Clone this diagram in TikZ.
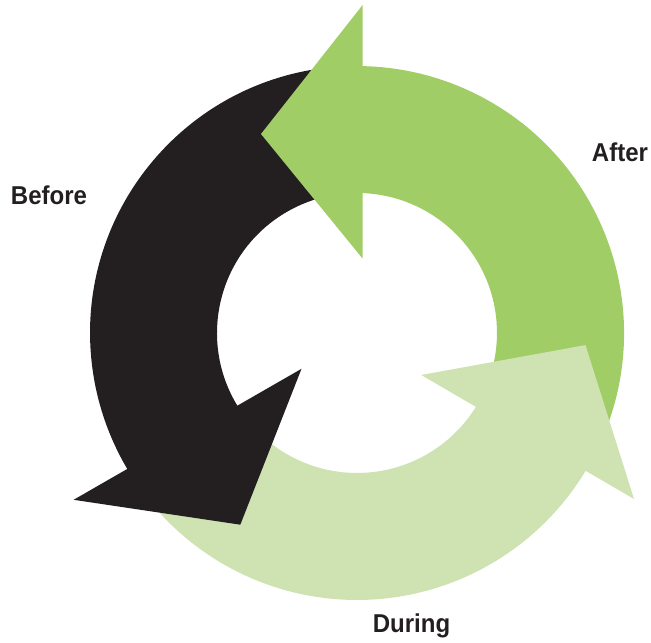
\documentclass[tikz,border=0pt]{standalone}
\usepackage{fontspec}
\newfontfamily\lblfont{Liberation Sans}[FakeStretch=0.93]
\definecolor{arrowblack}{HTML}{231F20}
\definecolor{arrowgreen}{HTML}{A1CD67}
\definecolor{arrowlight}{HTML}{CEE3B1}
\tikzset{
  lbl/.style={inner sep=0pt, anchor=base, text=arrowblack,
    font=\lblfont\bfseries\fontsize{14.7}{16}\selectfont},
}
\begin{document}
\begin{tikzpicture}[x=0.02cm, y=0.02cm]
\useasboundingbox (0,0) rectangle (651,642);
\begin{scope}[shift={(357,309)}]
  % bodies (outer radius 267 px = 5.34cm, inner 140 px = 2.8cm)
  \fill[arrowgreen] (-25:267) arc[start angle=-25, end angle=91, radius=5.34cm]
    -- (91:140) arc[start angle=91, end angle=-25, radius=2.8cm] -- cycle;
  \fill[arrowblack] (95:267) arc[start angle=95, end angle=213, radius=5.34cm]
    -- (213:140) arc[start angle=213, end angle=95, radius=2.8cm] -- cycle;
  \fill[arrowlight] (218:267) arc[start angle=218, end angle=331, radius=5.34cm]
    -- (331:140) arc[start angle=331, end angle=218, radius=2.8cm] -- cycle;
  % heads
  \fill[arrowgreen] (5.6,328) -- (-96,199) -- (5.6,74.4) -- cycle;
  \fill[arrowblack] (-55.5,-35.8) -- (-116.7,-191.7) -- (-283.4,-166.8) -- cycle;
  \fill[arrowlight] (64.2,-42) -- (228.5,-12.1) -- (277,-166) -- cycle;
\end{scope}
\node[lbl] (before) at (49,437) {Before};
\node[lbl] (after) at (620,480.3) {After};
\node[lbl] (during) at (411.5,9.3) {During};
\end{tikzpicture}
\end{document}
